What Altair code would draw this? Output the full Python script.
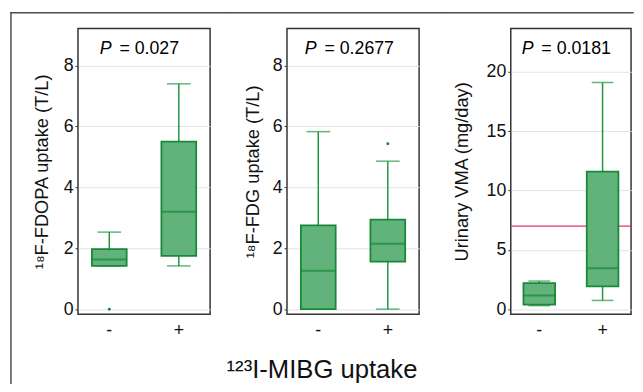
import altair as alt
import pandas as pd

groups = ["-", "+"]

# 18F-FDOPA uptake (T/L)
fdopa_lower = [1.42, 1.42]
fdopa_q1 = [1.42, 1.75]
fdopa_median = [1.63, 3.20]
fdopa_q3 = [1.97, 5.50]
fdopa_upper = [2.53, 7.40]
fdopa_out_group = ["-"]
fdopa_out_value = [0.0]

# 18F-FDG uptake (T/L)
fdg_lower = [0.0, 0.0]
fdg_q1 = [0.0, 1.56]
fdg_median = [1.26, 2.15]
fdg_q3 = [2.75, 2.94]
fdg_upper = [5.83, 4.86]
fdg_out_group = ["+"]
fdg_out_value = [5.43]

# Urinary VMA (mg/day)
vma_lower = [0.31, 0.75]
vma_q1 = [0.39, 1.94]
vma_median = [1.16, 3.46]
vma_q3 = [2.21, 11.6]
vma_upper = [2.38, 19.1]
vma_out_group = []
vma_out_value = []
vma_threshold = [7.0]

y_titles = ["¹⁸F-FDOPA uptake (T/L)", "¹⁸F-FDG uptake (T/L)", "Urinary VMA (mg/day)"]
p_letter = ["P", "P", "P"]
p_values = ["= 0.027", "= 0.2677", "= 0.0181"]
x_title = "¹²³I-MIBG uptake"
ticks_tl = [0, 2, 4, 6, 8]
ticks_vma = [0, 5, 10, 15, 20]

FONT = "Liberation Sans"
FILL = "#62b27b"
STROKE = "#178a37"
WHISK = "#1f9640"
FRAME = "#4d4d4d"
H = 290


def panel(i, lower, q1, med, q3, upper, out_g, out_v, domain, ticks, width,
          pstart, title_pad, cap, top_from, top_to, threshold=None, left_rule=False):
    df = pd.DataFrame({"group": groups, "lower": lower, "q1": q1,
                       "median": med, "q3": q3, "upper": upper})
    xs = alt.Scale(domain=groups, paddingInner=0.5, paddingOuter=0.2)
    xax = alt.Axis(title=None, labelAngle=0, ticks=False, domain=False, labelPadding=7,
                   labelFontSize=18, grid=False)
    x = alt.X("group:N", sort=groups, scale=xs, axis=xax)
    ys = alt.Scale(domain=domain, nice=False, zero=False)
    yax = alt.Axis(values=ticks, title=y_titles[i], titlePadding=title_pad,
                   domain=False, tickSize=3, tickColor="#333333", tickWidth=1,
                   labelPadding=2, labelFontSize=18, titleFontSize=18.5,
                   grid=True, gridColor="#e4e4e4", gridWidth=1)

    def Y(f):
        return alt.Y(f"{f}:Q", scale=ys, axis=yax)

    base = alt.Chart(df).encode(x=x)
    layers = []
    fr = alt.Chart(pd.DataFrame({"a": [0]}))
    if left_rule:
        layers.append(fr.mark_rule(color=FRAME, strokeWidth=1.5, strokeCap="square").encode(
            x=alt.value(top_from), y=alt.value(-16), y2=alt.value(360)))
    layers.append(fr.mark_rule(color=FRAME, strokeWidth=1.5, strokeCap="square").encode(
        x=alt.value(top_from), x2=alt.value(top_to), y=alt.value(-16)))
    if threshold is not None:
        layers.append(alt.Chart(pd.DataFrame({"t": threshold})).mark_rule(
            color="#e8336b", strokeWidth=1.2).encode(y=Y("t")))
    layers.append(base.mark_rule(color=WHISK, strokeWidth=1.5).encode(
        y=Y("lower"), y2="upper:Q"))
    layers.append(base.mark_tick(color=WHISK, thickness=1.5, size=cap).encode(y=Y("upper")))
    layers.append(base.mark_tick(color=WHISK, thickness=1.5, size=cap).encode(y=Y("lower")))
    layers.append(base.mark_bar(fill=FILL, stroke=STROKE, strokeWidth=1.8).encode(
        y=Y("q1"), y2="q3:Q"))
    layers.append(base.mark_tick(color=STROKE, thickness=2, size=width * 0.263).encode(
        y=Y("median")))
    if out_g:
        od = pd.DataFrame({"group": out_g, "v": out_v})
        layers.append(alt.Chart(od).mark_point(filled=True, color=STROKE, size=9, opacity=1).encode(
            x=x, y=Y("v")))
    td = pd.DataFrame({"p": [p_letter[i]], "rest": [p_values[i]]})
    layers.append(alt.Chart(td).mark_text(fontStyle="italic", fontSize=18, align="left",
                                          baseline="middle", color="black").encode(
        text="p:N", x=alt.value(pstart), y=alt.value(21)))
    layers.append(alt.Chart(td).mark_text(fontSize=18, align="left",
                                          baseline="middle", color="black").encode(
        text="rest:N", x=alt.value(pstart + 20), y=alt.value(21)))
    return alt.layer(*layers).properties(width=width, height=H)


p1 = panel(0, fdopa_lower, fdopa_q1, fdopa_median, fdopa_q3, fdopa_upper,
           fdopa_out_group, fdopa_out_value, [-0.17, 9.22], ticks_tl, 134,
           22, 12, 24, -68, 155, left_rule=True)
p2 = panel(1, fdg_lower, fdg_q1, fdg_median, fdg_q3, fdg_upper,
           fdg_out_group, fdg_out_value, [-0.17, 9.22], ticks_tl, 134,
           18, 10, 24, -56, 156)
p3 = panel(2, vma_lower, vma_q1, vma_median, vma_q3, vma_upper,
           vma_out_group, vma_out_value, [-0.42, 23.65], ticks_vma, 122,
           11, 15, 22, -70, 124, threshold=vma_threshold)

chart = alt.hconcat(p1, p2, p3, spacing=-3).properties(
    padding={"left": 1, "top": 0, "right": 0, "bottom": 0},
    title=alt.TitleParams(x_title, orient="bottom", anchor="middle", fontSize=26,
                          font=FONT, fontWeight="normal", color="#111111", offset=-28)
).configure_view(stroke="#333333", strokeWidth=1.5).configure_axis(
    labelFont=FONT, titleFont=FONT, labelColor="#111111", titleColor="#111111",
    titleFontWeight="normal"
).configure_text(font=FONT)

chart.save("out.html", embed_options={"renderer": "svg", "actions": False})
